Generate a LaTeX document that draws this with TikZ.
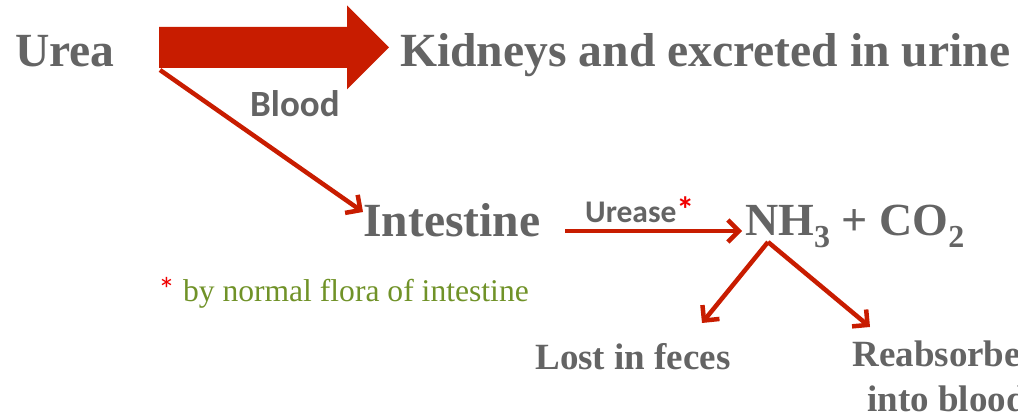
\documentclass[tikz,border=0pt]{standalone}
\usepackage{fontspec}
\setmainfont{Liberation Serif}
\newfontfamily\calfont{Carlito}
\newfontfamily\timesfont{Liberation Serif}
\usetikzlibrary{arrows.meta}
\definecolor{txtgray}{RGB}{100,100,100}
\definecolor{arrred}{RGB}{200,28,0}
\definecolor{olivegreen}{RGB}{112,146,40}
\definecolor{starred}{RGB}{240,0,0}
\begin{document}
\begin{tikzpicture}[x=1pt,y=-1pt,
  main/.style={font=\timesfont\fontsize{47.6}{50}\selectfont\bfseries, text=txtgray, inner sep=0pt, anchor=base west},
  small/.style={font=\timesfont\fontsize{37}{40}\selectfont\bfseries, text=txtgray, inner sep=0pt, anchor=base},
  lbl/.style={font=\calfont\bfseries\fontsize{37}{40}\selectfont, text=txtgray, inner sep=0pt, anchor=base west},
  note/.style={font=\timesfont\fontsize{31.6}{34}\selectfont, text=olivegreen, inner sep=0pt, anchor=base west},
  conn/.style={draw=arrred, line width=4.5pt, -{Straight Barb[length=11pt,width=22pt]}}
]
\useasboundingbox (0,0) rectangle (1018,419);
\clip (0,0) rectangle (1018,419);

% texts
\node[main] (urea) at (15,67) {Urea};
\node[main] (kidneys) at (400,67) {Kidneys and excreted in urine};
\node[lbl] (blood) at (250,117) {Blood};
\node[main] (intestine) at (363,237) {Intestine};
\node[lbl, font=\calfont\bfseries\fontsize{31.5}{34}\selectfont] (urease) at (585,223) {Urease\textcolor{starred}{\fontsize{36}{36}\selectfont *}};
\node[main, font=\timesfont\fontsize{46}{50}\selectfont\bfseries] (nh3) at (745,236)
  {NH\raisebox{-12pt}{\fontsize{32}{34}\selectfont 3} + CO\raisebox{-12pt}{\fontsize{32}{34}\selectfont 2}};
\node[note] (note) at (158,302) {\textcolor{starred}{\calfont\fontsize{34}{34}\selectfont *} by normal flora of intestine};
\node[small] (feces) at (633,370) {Lost in feces};
\node[small] (reab) at (947,367) {Reabsorbed};
\node[small] (intoblood) at (947,412) {into blood};

% big block arrow Urea -> Kidneys
\coordinate (bigstart) at (159,47.5);
\coordinate (bigtip) at (389,47.5);
\fill[arrred] (159,27) -- (347,27) -- (347,5.5) -- (bigtip) -- (347,89.5) -- (347,68) -- (159,68) -- cycle;

% connectors
\coordinate (bloodstart) at (160,70);
\coordinate (bloodend) at (363,212);
\draw[conn] (bloodstart) -- (bloodend);

\coordinate (ureasestart) at (565,231);
\coordinate (ureaseend) at (742,231);
\draw[conn] (ureasestart) -- (ureaseend);

\coordinate (split) at (768,242);
\coordinate (fecesend) at (702,323);
\coordinate (reabend) at (870,327);
\draw[conn] (split) -- (fecesend);
\draw[conn] (split) -- (reabend);
\end{tikzpicture}
\end{document}
